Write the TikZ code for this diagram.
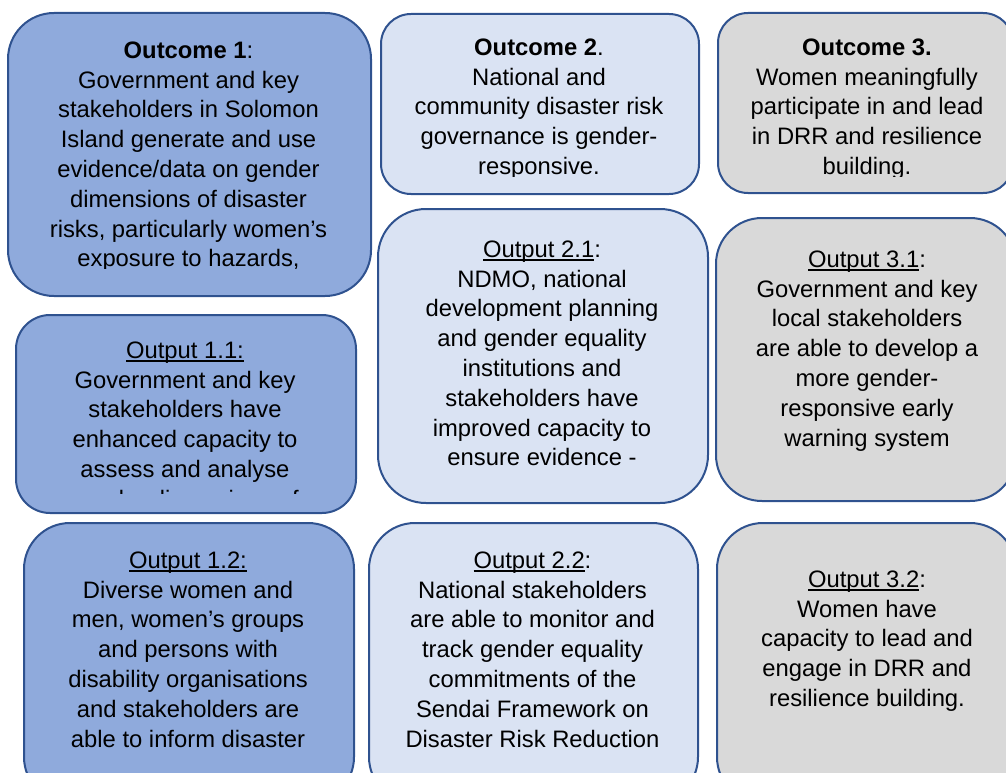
\documentclass[tikz,border=0pt]{standalone}
\usepackage{fontspec}
\setmainfont{Liberation Sans}
\definecolor{edge}{HTML}{2F528F}
\definecolor{midblue}{HTML}{8FAADC}
\definecolor{paleblue}{HTML}{DAE3F3}
\definecolor{boxgray}{HTML}{D9D9D9}
% underline sitting just under the baseline, as in the source layout
\newcommand\undl[1]{\leavevmode\setbox0\hbox{#1}\rlap{\rule[-3.4pt]{\wd0}{1.6pt}}\box0}
\newcommand\firstline{\rule{0pt}{23pt}}
\begin{document}
\begin{tikzpicture}[x=1pt,y=-1pt,
  card/.style={draw=edge, line width=2pt, rectangle, inner sep=0pt, anchor=north west},
  txt/.style={anchor=north, inner sep=0pt, align=center, text=black,
              font=\fontsize{23.8}{29.8}\selectfont}]
\useasboundingbox (0,0) rectangle (1006,773);
\clip (0,0) rectangle (1006,773);

% ---- column 1 ----
\node[card, fill=midblue, minimum width=363pt, minimum height=283pt, rounded corners=46pt] (oc1) at (7,12) {};
\begin{scope}
  \clip (7,12) rectangle (370,268);
  \node[txt] (oc1t) at (188.5,35) {\firstline\textbf{Outcome 1}:\\Government and key\\stakeholders in Solomon\\Island generate and use\\evidence/data on gender\\dimensions of disaster\\risks, particularly women’s\\exposure to hazards,};
\end{scope}

\node[card, fill=midblue, minimum width=340pt, minimum height=198pt, rounded corners=34pt] (op11) at (15,314) {};
\begin{scope}
  \clip (15,314) rectangle (355,493);
  \node[txt] (op11t) at (185,335) {\firstline\undl{Output 1.1:}\\Government and key\\stakeholders have\\enhanced capacity to\\assess and analyse\\gender dimensions of};
\end{scope}

\node[card, fill=midblue, minimum width=330pt, minimum height=280pt, rounded corners=46pt] (op12) at (23,522) {};
\node[txt] (op12t) at (188,545) {\firstline\undl{Output 1.2:}\\Diverse women and\\men, women’s groups\\and persons with\\disability organisations\\and stakeholders are\\able to inform disaster};

% ---- column 2 ----
\node[card, fill=paleblue, minimum width=318pt, minimum height=180pt, rounded corners=30pt] (oc2) at (380,13) {};
\begin{scope}
  \clip (380,13) rectangle (698,176);
  \node[txt] (oc2t) at (539,32) {\firstline\textbf{Outcome 2}.\\National and\\community disaster risk\\governance is gender-\\responsive.};
\end{scope}

\node[card, fill=paleblue, minimum width=330pt, minimum height=294pt, rounded corners=48pt] (op21) at (377,208) {};
\node[txt] (op21t) at (542,234) {\firstline\undl{Output 2.1}:\\NDMO, national\\development planning\\and gender equality\\institutions and\\stakeholders have\\improved capacity to\\ensure evidence -};

\node[card, fill=paleblue, minimum width=329pt, minimum height=280pt, rounded corners=46pt] (op22) at (368,522) {};
\node[txt] (op22t) at (532.5,545) {\firstline\undl{Output 2.2}:\\National stakeholders\\are able to monitor and\\track gender equality\\commitments of the\\Sendai Framework on\\Disaster Risk Reduction};

% ---- column 3 ----
\node[card, fill=boxgray, minimum width=295pt, minimum height=180pt, rounded corners=30pt] (oc3) at (717,12) {};
\begin{scope}
  \clip (717,12) rectangle (1012,176);
  \node[txt] (oc3t) at (867,32) {\firstline\textbf{Outcome 3.}\\Women meaningfully\\participate in and lead\\in DRR and resilience\\building.};
\end{scope}

\node[card, fill=boxgray, minimum width=300pt, minimum height=283pt, rounded corners=46pt] (op31) at (715,217) {};
\node[txt] (op31t) at (867,244) {\firstline\undl{Output 3.1}:\\Government and key\\local stakeholders\\are able to develop a\\more gender-\\responsive early\\warning system};

\node[card, fill=boxgray, minimum width=299pt, minimum height=280pt, rounded corners=46pt] (op32) at (716,522) {};
\node[txt] (op32t) at (867,564) {\firstline\undl{Output 3.2}:\\Women have\\capacity to lead and\\engage in DRR and\\resilience building.};
\end{tikzpicture}
\end{document}
